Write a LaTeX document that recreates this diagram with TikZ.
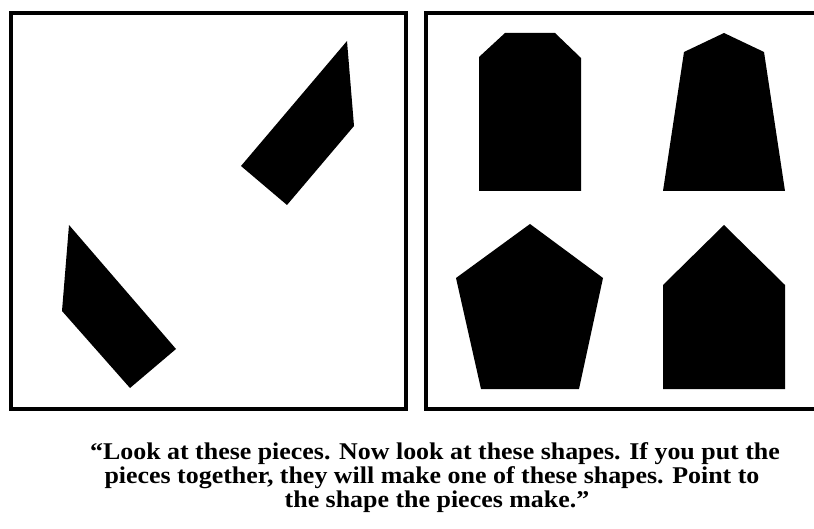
\documentclass[tikz,border=0pt]{standalone}
\usepackage{fontspec}
\setmainfont{Liberation Serif}
\newfontfamily\capfont[FakeStretch=1.08]{Liberation Serif Bold}
\begin{document}
\begin{tikzpicture}[x=1pt,y=-1pt,
  frame/.style={draw=black,line width=4pt},
  piece/.style={fill=black,draw=none},
  caption/.style={anchor=base,font=\capfont\fontsize{24}{24}\selectfont,inner sep=0pt}]
\useasboundingbox[fill=white] (0,0) rectangle (814,529);
% frames
\draw[frame] (11,13) rectangle (406,408.5);
\draw[frame] (426,13) rectangle (830,408.5);
% pieces (left panel)
\fill[piece] (347,41) -- (354,126) -- (287,205) -- (241,166) -- cycle;
\fill[piece] (69,225) -- (176,349) -- (130,388) -- (62,311) -- cycle;
% candidate shapes (right panel)
\fill[piece] (505,33) -- (555,33) -- (581,58) -- (581,191) -- (479,191) -- (479,57) -- cycle;
\fill[piece] (724,33) -- (764,52) -- (785,191) -- (663,191) -- (684,52) -- cycle;
\fill[piece] (530,224) -- (603,278) -- (579,389) -- (481,389) -- (456,278) -- cycle;
\fill[piece] (724,225) -- (785,285) -- (785,389) -- (663,389) -- (663,285) -- cycle;
% caption
\node[caption] (l1) at (435,459) {“Look at these pieces. Now look at these shapes. If you put the};
\node[caption] (l2) at (432,483) {pieces together, they will make one of these shapes. Point to};
\node[caption] (l3) at (437,507) {the shape the pieces make.”};
\end{tikzpicture}
\end{document}
